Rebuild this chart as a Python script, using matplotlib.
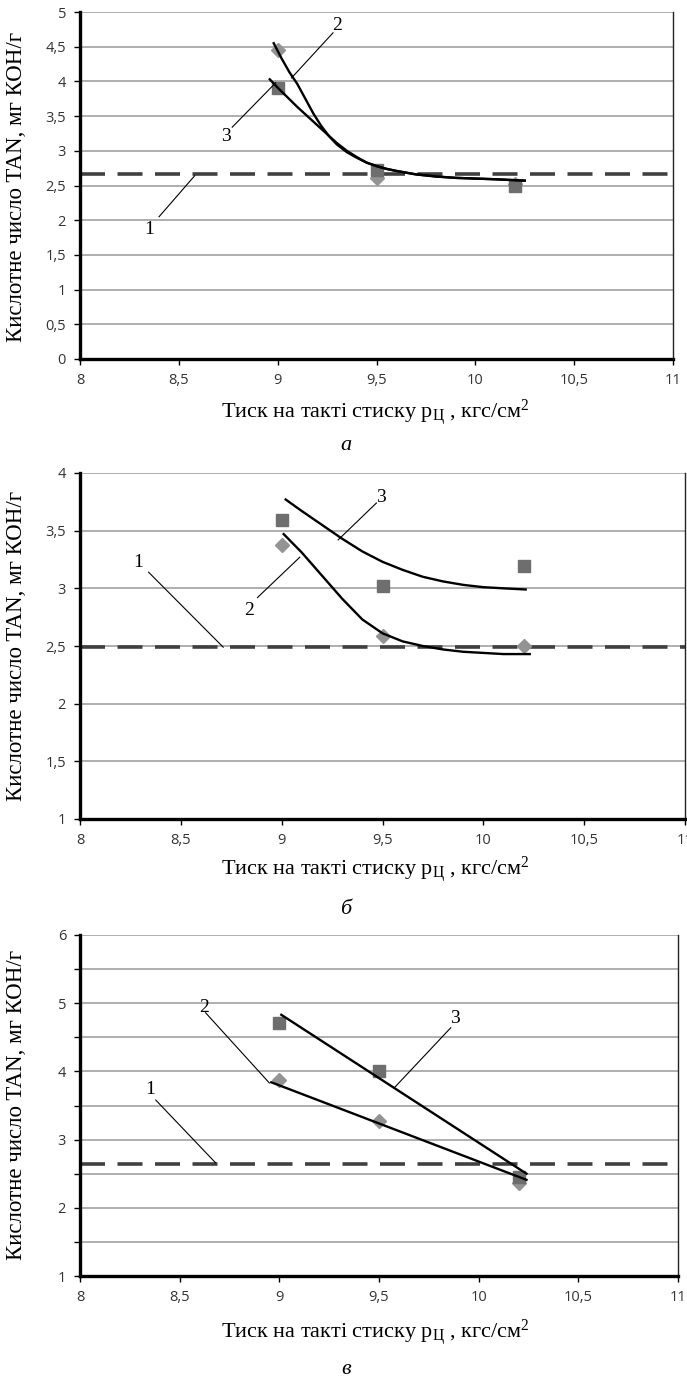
import matplotlib
matplotlib.use("Agg")
import matplotlib.pyplot as plt
import numpy as np

plt.rcParams['lines.scale_dashes'] = False
plt.rcParams['mathtext.fontset'] = 'custom'
plt.rcParams['mathtext.rm'] = 'Liberation Serif'
plt.rcParams['mathtext.it'] = 'Liberation Serif:italic'

W, H = 687, 1381
DPI = 100

# ---------------- data ----------------
x_pts = [9.0, 9.5, 10.2]

# panel a
a_level = 2.66
a_diam = [4.45, 2.61, 2.52]
a_sq = [3.91, 2.73, 2.50]
a_c2_x = [8.98, 9.02, 9.06, 9.10, 9.14, 9.18, 9.22, 9.26, 9.30, 9.35, 9.40, 9.45,
          9.50, 9.55, 9.60, 9.70, 9.80, 9.90, 10.00, 10.10, 10.25]
a_c2_y = [4.55, 4.33, 4.13, 3.96, 3.75, 3.54, 3.36, 3.21, 3.09, 2.98, 2.90, 2.83,
          2.78, 2.74, 2.71, 2.66, 2.63, 2.61, 2.60, 2.59, 2.57]
a_c3_x = [8.96, 9.00, 9.05, 9.10, 9.15, 9.20, 9.25, 9.30, 9.35, 9.40, 9.45,
          9.50, 9.55, 9.60, 9.70, 9.80, 9.90, 10.00, 10.10, 10.25]
a_c3_y = [4.03, 3.91, 3.77, 3.63, 3.50, 3.37, 3.24, 3.11, 3.00, 2.91, 2.83,
          2.78, 2.74, 2.71, 2.66, 2.63, 2.61, 2.60, 2.59, 2.57]

# panel b
b_level = 2.49
b_diam = [3.38, 2.59, 2.50]
b_sq = [3.59, 3.02, 3.19]
b_c2_x = [9.01, 9.10, 9.20, 9.30, 9.40, 9.50, 9.60, 9.70, 9.80, 9.90, 10.00, 10.10, 10.23]
b_c2_y = [3.47, 3.31, 3.11, 2.91, 2.73, 2.61, 2.54, 2.50, 2.47, 2.45, 2.44, 2.43, 2.43]
b_c3_x = [9.02, 9.10, 9.20, 9.30, 9.40, 9.50, 9.60, 9.70, 9.80, 9.90, 10.00, 10.10, 10.21]
b_c3_y = [3.77, 3.67, 3.55, 3.43, 3.32, 3.23, 3.16, 3.10, 3.06, 3.03, 3.01, 3.00, 2.99]

# panel c
c_level = 2.64
c_diam = [3.87, 3.28, 2.37]
c_sq = [4.71, 4.00, 2.45]
c_c2_x = [8.96, 10.24]
c_c2_y = [3.84, 2.41]
c_c3_x = [9.01, 10.24]
c_c3_y = [4.83, 2.50]

xticks = [8, 8.5, 9, 9.5, 10, 10.5, 11]

def fmt(v):
    s = ('%g' % v)
    return s.replace('.', ',')

fig = plt.figure(figsize=(W / DPI, H / DPI), dpi=DPI)

def px_axes(left, right, top, bottom):
    return fig.add_axes([left / W, 1 - bottom / H, (right - left) / W, (bottom - top) / H])

SERIF = ['Liberation Serif', 'DejaVu Serif']
SANS = ['Open Sans', 'DejaVu Sans']
XLABEL = 'Тиск на такті стиску p$_{\\mathrm{Ц}}$ , кгс/см$^{2}$'
YLABEL = 'Кислотне число TAN, мг КОН/г'
TICKFS = 10.5

def setup(ax, ymin, ymax, ystep, ylab_step):
    ax.set_xlim(8, 11)
    ax.set_ylim(ymin, ymax)
    yt = np.arange(ymin, ymax + 1e-9, ystep)
    ax.set_yticks(yt)
    ax.set_yticklabels([fmt(v) if abs((v - ymin) / ylab_step - round((v - ymin) / ylab_step)) < 1e-6 else '' for v in yt],
                       fontfamily=SANS, fontsize=TICKFS, color='#333333')
    ax.set_xticks(xticks)
    ax.set_xticklabels([fmt(v) for v in xticks], fontfamily=SANS, fontsize=TICKFS, color='#333333')
    ax.grid(axis='y', color='#a8a8a8', lw=1.3)
    ax.set_axisbelow(True)
    for s in ['left', 'bottom']:
        ax.spines[s].set_linewidth(2.4)
        ax.spines[s].set_color('black')
    ax.spines['right'].set_linewidth(1.0)
    ax.spines['right'].set_color('#222222')
    ax.spines['top'].set_visible(False)
    ax.tick_params(axis='both', direction='out', length=4, width=1.0, color='black', pad=6)

def draw(ax, level, diam, sq, c2x, c2y, c3x, c3y):
    ax.axhline(level, color='#404040', lw=2.6, dashes=(18, 9), zorder=2)
    ax.plot(x_pts, diam, ls='none', marker='D', ms=7.5, color='#939393', zorder=3, clip_on=False)
    ax.plot(x_pts, sq, ls='none', marker='s', ms=8.5, color='#6e6e6e', zorder=3, clip_on=False)
    ax.plot(c2x, c2y, color='black', lw=1.7, zorder=4, solid_joinstyle='round')
    ax.plot(c3x, c3y, color='black', lw=1.7, zorder=4, solid_joinstyle='round')

def label(ax, txt, tx, ty, x0, y0, x1, y1):
    ax.plot([x0, x1], [y0, y1], color='black', lw=0.8, zorder=5, clip_on=False)
    ax.text(tx, ty, txt, fontfamily=SERIF, fontsize=14, ha='center', va='center', zorder=6)

def texts(xl_y, cap_y, cap, cap_x=346):
    fig.text(375 / W, 1 - xl_y / H, XLABEL, fontfamily=SERIF, fontsize=16, ha='center', va='center')
    fig.text(cap_x / W, 1 - cap_y / H, cap, fontfamily=SERIF, fontsize=16, style='italic', ha='center', va='center')

# ---- panel a ----
ax1 = px_axes(80, 673, 12, 359)
setup(ax1, 0, 5, 0.5, 0.5)
draw(ax1, a_level, a_diam, a_sq, a_c2_x, a_c2_y, a_c3_x, a_c3_y)
label(ax1, '2', 9.30, 4.81, 9.28, 4.70, 9.07, 4.05)
label(ax1, '3', 8.74, 3.20, 8.77, 3.34, 8.99, 3.98)
label(ax1, '1', 8.35, 1.86, 8.40, 2.05, 8.58, 2.64)
fig.text(17 / W, 1 - 187 / H, YLABEL, fontfamily=SERIF, fontsize=16.5, rotation=90, ha='center', va='center')
texts(413, 445, 'а')

# ---- panel b ----
ax2 = px_axes(80, 685, 473, 819)
setup(ax2, 1, 4, 0.5, 0.5)
draw(ax2, b_level, b_diam, b_sq, b_c2_x, b_c2_y, b_c3_x, b_c3_y)
label(ax2, '1', 8.29, 3.22, 8.34, 3.14, 8.71, 2.49)
label(ax2, '2', 8.84, 2.81, 8.88, 2.92, 9.09, 3.27)
label(ax2, '3', 9.49, 3.79, 9.47, 3.74, 9.28, 3.42)
fig.text(17 / W, 1 - 646 / H, YLABEL, fontfamily=SERIF, fontsize=16.5, rotation=90, ha='center', va='center')
texts(870, 910, 'б')

# ---- panel c ----
ax3 = px_axes(80, 678, 935, 1276)
setup(ax3, 1, 6, 0.5, 1.0)
draw(ax3, c_level, c_diam, c_sq, c_c2_x, c_c2_y, c_c3_x, c_c3_y)
label(ax3, '2', 8.62, 4.94, 8.63, 4.86, 8.95, 3.83)
label(ax3, '3', 9.88, 4.78, 9.86, 4.64, 9.58, 3.77)
label(ax3, '1', 8.35, 3.73, 8.38, 3.58, 8.68, 2.66)
fig.text(17 / W, 1 - 1105 / H, YLABEL, fontfamily=SERIF, fontsize=16.5, rotation=90, ha='center', va='center')
texts(1333, 1370, 'в')

fig.savefig('out.png', dpi=DPI)
